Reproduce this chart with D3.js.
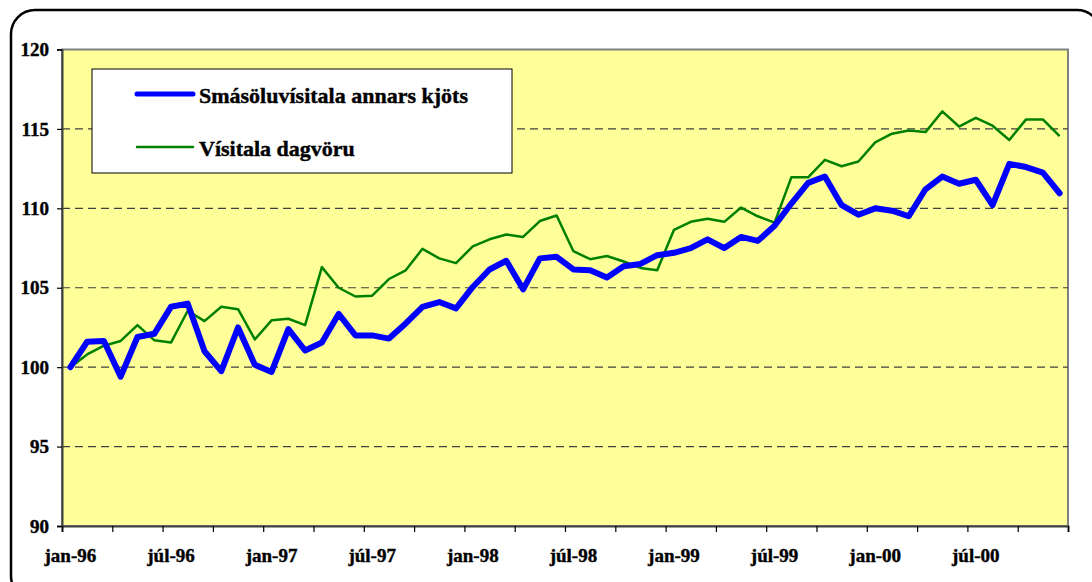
<!DOCTYPE html>
<html>
<head>
<meta charset="utf-8">
<script src="https://cdn.jsdelivr.net/npm/d3@7"></script>
<style>
    body { margin: 0; background: #fff; }
    svg { display: block; }
    text { font-family: "Liberation Serif", "Times New Roman", serif; font-weight: bold; fill: #000; }
</style>
</head>
<body>
<div id="chart"></div>
<script>
// months jan-96 .. des-00
let monthNames = ['jan', 'feb', 'mar', 'apr', 'maí', 'jún', 'júl', 'ágú', 'sep', 'okt', 'nóv', 'des'];
let years = ['96', '97', '98', '99', '00'];
let months = [];
years.forEach(y => monthNames.forEach(m => months.push(`${m}-${y}`)));

let labelMonths = ['jan-96', 'júl-96', 'jan-97', 'júl-97', 'jan-98', 'júl-98', 'jan-99', 'júl-99', 'jan-00', 'júl-00'];
let yTicks = [90, 95, 100, 105, 110, 115, 120];
let gridTicks = [95, 100, 105, 110, 115];

let seriesNames = ['Smásöluvísitala annars kjöts', 'Vísitala dagvöru'];

// Smásöluvísitala annars kjöts
let kjot = [
    100.0, 101.6, 101.65, 99.4, 101.9, 102.1, 103.8, 104.0, 101.0, 99.75, 102.5, 100.15,
    99.7, 102.4, 101.05, 101.55, 103.35, 102.0, 102.0, 101.8, 102.75, 103.8, 104.1, 103.7,
    105.05, 106.15, 106.7, 104.9, 106.85, 106.95, 106.15, 106.1, 105.65, 106.35, 106.5, 107.05,
    107.2, 107.5, 108.05, 107.5, 108.2, 107.95, 108.9, 110.3, 111.6, 112.0, 110.2, 109.6,
    110.0, 109.85, 109.5, 111.2, 112.0, 111.55, 111.8, 110.2, 112.8, 112.6, 112.25, 110.95
];

// Vísitala dagvöru
let dagvara = [
    100.0, 100.8, 101.35, 101.65, 102.65, 101.7, 101.55, 103.55, 102.9, 103.8, 103.65, 101.75,
    102.95, 103.05, 102.65, 106.3, 105.0, 104.45, 104.5, 105.55, 106.1, 107.45, 106.85, 106.55,
    107.6, 108.05, 108.35, 108.2, 109.2, 109.55, 107.3, 106.8, 107.0, 106.65, 106.25, 106.1,
    108.65, 109.15, 109.35, 109.15, 110.05, 109.5, 109.1, 111.95, 111.95, 113.05, 112.65, 112.95,
    114.15, 114.7, 114.9, 114.8, 116.1, 115.15, 115.7, 115.2, 114.3, 115.6, 115.6, 114.55
];

let width = 1092,
    height = 582,
    plot = {left: 62, top: 49.5, right: 1068, bottom: 526};

let svg = d3.select('#chart').append('svg')
    .attr('width', width)
    .attr('height', height);

// outer rounded frame
svg.append('rect')
    .attr('x', 11)
    .attr('y', 10)
    .attr('width', 1090)
    .attr('height', 590)
    .attr('rx', 24)
    .attr('fill', '#fff')
    .attr('stroke', '#000')
    .attr('stroke-width', 2.5);

let xScale = d3.scaleBand()
    .domain(months)
    .range([plot.left, plot.right])
    .padding(0);

let xIndex = d3.scaleLinear()
    .domain([0, months.length])
    .range([plot.left, plot.right]);

let yScale = d3.scaleLinear()
    .domain([90, 120])
    .range([plot.bottom, plot.top]);

let xMid = d => xScale(d) + xScale.bandwidth() / 2;

// plot background
svg.append('rect')
    .attr('x', plot.left)
    .attr('y', plot.top)
    .attr('width', plot.right - plot.left)
    .attr('height', plot.bottom - plot.top)
    .attr('fill', '#ffff99')
    .attr('stroke', '#808080')
    .attr('stroke-width', 2);

// dashed grid
svg.append('g')
    .selectAll('line')
    .data(gridTicks)
    .join('line')
    .attr('x1', plot.left)
    .attr('x2', plot.right)
    .attr('y1', d => yScale(d))
    .attr('y2', d => yScale(d))
    .attr('stroke', '#404040')
    .attr('stroke-width', 1.2)
    .attr('stroke-dasharray', '8,5');

// y axis
let yAxis_g = svg.append('g')
    .attr('transform', `translate(${plot.left}, 0)`)
    .call(d3.axisLeft(yScale).tickValues(yTicks).tickSize(5).tickPadding(8));

// x axis tick marks every 3 months
let xTick_g = svg.append('g')
    .attr('transform', `translate(0, ${plot.bottom})`)
    .call(d3.axisBottom(xIndex).tickValues(d3.range(0, months.length + 1, 3)).tickSize(6).tickFormat(''));

// x labels every 6 months
let xLabel_g = svg.append('g')
    .attr('transform', `translate(0, ${plot.bottom})`)
    .call(d3.axisBottom(xScale).tickValues(labelMonths).tickSize(0).tickPadding(23));

[yAxis_g, xTick_g, xLabel_g].forEach(g => {
    g.selectAll('.domain').attr('stroke', '#404040').attr('stroke-width', 2);
    g.selectAll('.tick line').attr('stroke', '#000').attr('stroke-width', 1.2);
    g.selectAll('text')
        .attr('fill', '#000')
        .attr('stroke', '#000')
        .attr('stroke-width', 0.4)
        .style('font-family', '"Liberation Serif", "Times New Roman", serif')
        .style('font-weight', 'bold')
        .style('font-size', '19px');
});
xLabel_g.select('.domain').remove();

let line = d3.line()
    .x((d, i) => xMid(months[i]))
    .y(d => yScale(d));

svg.append('path')
    .datum(dagvara)
    .attr('d', line)
    .attr('fill', 'none')
    .attr('stroke', '#008000')
    .attr('stroke-width', 2.5)
    .attr('stroke-linejoin', 'round');

svg.append('path')
    .datum(kjot)
    .attr('d', line)
    .attr('fill', 'none')
    .attr('stroke', '#0000ff')
    .attr('stroke-width', 6)
    .attr('stroke-linejoin', 'round')
    .attr('stroke-linecap', 'round');

// legend
let legend_g = svg.append('g')
    .attr('class', 'legend');

legend_g.append('rect')
    .attr('x', 92)
    .attr('y', 69)
    .attr('width', 420)
    .attr('height', 104)
    .attr('fill', '#fff')
    .attr('stroke', '#000')
    .attr('stroke-width', 1);

let legendItems = [
    {name: seriesNames[0], color: '#0000ff', w: 5, y: 94},
    {name: seriesNames[1], color: '#008000', w: 2.5, y: 147}
];

legendItems.forEach(d => {
    legend_g.append('line')
        .attr('x1', 137)
        .attr('x2', 193)
        .attr('y1', d.y)
        .attr('y2', d.y)
        .attr('stroke', d.color)
        .attr('stroke-width', d.w)
        .attr('stroke-linecap', 'round');
    legend_g.append('text')
        .attr('x', 199)
        .attr('y', d.y + 9)
        .attr('stroke', '#000')
        .attr('stroke-width', 0.4)
        .style('font-size', '22px')
        .text(d.name);
});
</script>
</body>
</html>
